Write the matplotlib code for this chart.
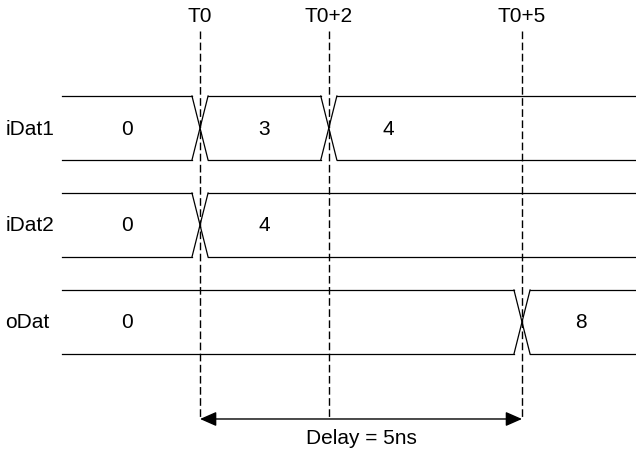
import matplotlib.pyplot as plt

plt.rcParams['font.family'] = ['Liberation Sans', 'DejaVu Sans']

# signal names, transition times (in ns relative to T0), values and label positions
signals = ['iDat1', 'iDat2', 'oDat']
transitions = [[0, 2], [0], [5]]
values = [['0', '3', '4'], ['0', '4'], ['0', '8']]
value_pos = [[-1.13, 1.0, 2.92], [-1.13, 1.0], [-1.13, 5.92]]

markers = [0, 2, 5]
marker_labels = ['T0', 'T0+2', 'T0+5']
delay_label = 'Delay = 5ns'

t_start, t_end = -2.14, 6.8
half_w = 0.125   # half width of the crossing
half_h = 0.33    # half height of the bus

fig = plt.figure(figsize=(6.36, 4.52), dpi=100)
ax = fig.add_axes([0, 0, 1, 1])
ax.set_xlim(-3.106, 6.770)
ax.set_ylim(3.33, -1.33)
ax.axis('off')

fs = 15
lw = 0.9
for i, name in enumerate(signals):
    edges = [t_start] + transitions[i] + [t_end]
    for k in range(len(edges) - 1):
        a = edges[k] + (half_w if k > 0 else 0)
        b = edges[k + 1] - (half_w if k + 1 < len(edges) - 1 else 0)
        ax.plot([a, b], [i - half_h, i - half_h], color='black', lw=lw)
        ax.plot([a, b], [i + half_h, i + half_h], color='black', lw=lw)
    for t in transitions[i]:
        ax.plot([t - half_w, t + half_w], [i - half_h, i + half_h], color='black', lw=lw)
        ax.plot([t - half_w, t + half_w], [i + half_h, i - half_h], color='black', lw=lw)
    for v, p in zip(values[i], value_pos[i]):
        ax.text(p, i, v, ha='center', va='center', fontsize=fs)
    ax.text(-3.02, i, name, ha='left', va='center', fontsize=fs)

for t, lab in zip(markers, marker_labels):
    ax.plot([t, t], [-1.0, 3.0], color='black', lw=1.0, dashes=(5.5, 2.5))
    ax.text(t, -1.16, lab, ha='center', va='center', fontsize=fs)

ax.annotate('', xy=(markers[0], 3.0), xytext=(markers[-1], 3.0),
            arrowprops=dict(arrowstyle='<|-|>,head_length=0.5,head_width=0.22',
                            color='black', lw=1.0,
                            mutation_scale=20, shrinkA=0, shrinkB=0))
ax.text((markers[0] + markers[-1]) / 2, 3.19, delay_label, ha='center', va='center', fontsize=fs)

fig.savefig('out.png', dpi=100)
